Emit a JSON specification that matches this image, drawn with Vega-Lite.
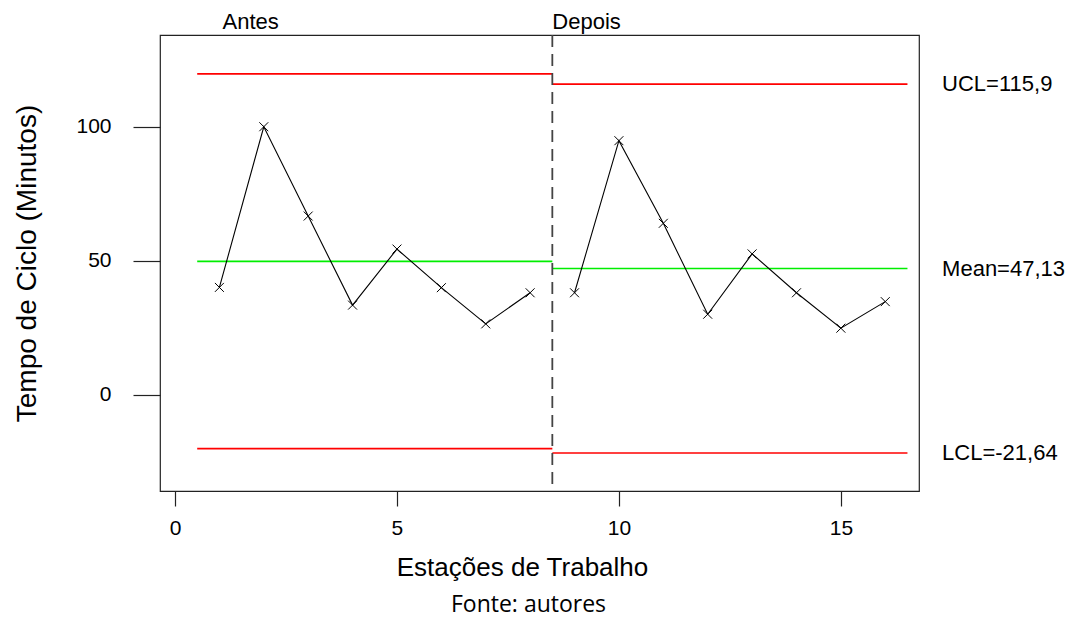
{
  "$schema": "https://vega.github.io/schema/vega-lite/v6.json",
  "width": 759,
  "height": 456,
  "autosize": {"type": "none"},
  "padding": {"left": 160, "top": 35, "right": 149, "bottom": 127},
  "background": "white",
  "config": {
    "view": {"stroke": "#222222", "strokeWidth": 1.2},
    "font": "Liberation Sans",
    "axis": {"grid": false, "domain": false, "tickColor": "#222222", "tickWidth": 1.2, "labelColor": "#000000", "titleColor": "#000000", "labelFont": "Liberation Sans", "titleFont": "Liberation Sans", "titleFontWeight": "normal"}
  },
  "title": {"text": "Fonte: autores", "orient": "bottom", "anchor": "middle", "font": "Open Sans", "fontSize": 23, "fontWeight": "normal", "color": "#000000", "offset": 14, "dx": -11},
  "datasets": {
    "pontos": [
      {"estacao": 1, "tempo": 40.1, "fase": "Antes"},
      {"estacao": 2, "tempo": 100.0, "fase": "Antes"},
      {"estacao": 3, "tempo": 66.7, "fase": "Antes"},
      {"estacao": 4, "tempo": 33.5, "fase": "Antes"},
      {"estacao": 5, "tempo": 54.4, "fase": "Antes"},
      {"estacao": 6, "tempo": 40.0, "fase": "Antes"},
      {"estacao": 7, "tempo": 26.5, "fase": "Antes"},
      {"estacao": 8, "tempo": 38.1, "fase": "Antes"},
      {"estacao": 9, "tempo": 38.1, "fase": "Depois"},
      {"estacao": 10, "tempo": 94.8, "fase": "Depois"},
      {"estacao": 11, "tempo": 64.0, "fase": "Depois"},
      {"estacao": 12, "tempo": 30.1, "fase": "Depois"},
      {"estacao": 13, "tempo": 52.6, "fase": "Depois"},
      {"estacao": 14, "tempo": 38.1, "fase": "Depois"},
      {"estacao": 15, "tempo": 24.9, "fase": "Depois"},
      {"estacao": 16, "tempo": 34.8, "fase": "Depois"}
    ],
    "limites": [
      {"fase": "Antes", "tipo": "UCL", "inicio": 0.5, "fim": 8.5, "valor": 119.7},
      {"fase": "Antes", "tipo": "Mean", "inicio": 0.5, "fim": 8.5, "valor": 49.8},
      {"fase": "Antes", "tipo": "LCL", "inicio": 0.5, "fim": 8.5, "valor": -20.0},
      {"fase": "Depois", "tipo": "UCL", "inicio": 8.5, "fim": 16.5, "valor": 115.9},
      {"fase": "Depois", "tipo": "Mean", "inicio": 8.5, "fim": 16.5, "valor": 47.13},
      {"fase": "Depois", "tipo": "LCL", "inicio": 8.5, "fim": 16.5, "valor": -21.64}
    ],
    "rotulos": [
      {"tipo": "UCL", "valor": 115.9, "texto": "UCL=115,9"},
      {"tipo": "Mean", "valor": 47.13, "texto": "Mean=47,13"},
      {"tipo": "LCL", "valor": -21.64, "texto": "LCL=-21,64"}
    ],
    "fases": [
      {"fase": "Antes", "inicio": 1.07},
      {"fase": "Depois", "inicio": 8.5}
    ],
    "divisao": [{"corte": 8.5}]
  },
  "layer": [
    {
      "data": {"name": "limites"},
      "mark": {"type": "rule", "strokeWidth": 1.6},
      "encoding": {
        "x": {"field": "inicio", "type": "quantitative", "scale": {"domain": [-0.338, 16.76], "nice": false, "zero": false},
          "axis": {"values": [0, 5, 10, 15], "tickSize": 15, "labelPadding": 11, "labelFontSize": 21, "title": "Estações de Trabalho", "titleFontSize": 26, "titlePadding": 16, "titleX": 362}},
        "x2": {"field": "fim"},
        "y": {"field": "valor", "type": "quantitative", "scale": {"domain": [-35.8, 134.2], "nice": false, "zero": false},
          "axis": {"values": [0, 50, 100], "tickSize": 27, "labelPadding": 22, "labelFontSize": 21, "title": "Tempo de Ciclo (Minutos)", "titleFontSize": 28, "titlePadding": 34}},
        "color": {"field": "tipo", "type": "nominal", "scale": {"domain": ["UCL", "Mean", "LCL"], "range": ["#FF0000", "#00EE00", "#FF0000"]}, "legend": null}
      }
    },
    {
      "data": {"name": "divisao"},
      "mark": {"type": "rule", "strokeDash": [12, 7], "strokeWidth": 1.8, "color": "#444444"},
      "encoding": {"x": {"field": "corte", "type": "quantitative"}}
    },
    {
      "data": {"name": "pontos"},
      "mark": {"type": "line", "color": "#000000", "strokeWidth": 1.1},
      "encoding": {
        "x": {"field": "estacao", "type": "quantitative"},
        "y": {"field": "tempo", "type": "quantitative"},
        "detail": {"field": "fase", "type": "nominal"}
      }
    },
    {
      "data": {"name": "pontos"},
      "mark": {"type": "point", "shape": "M-1,-1L1,1M1,-1L-1,1", "filled": false, "color": "#000000", "size": 80, "strokeWidth": 1, "opacity": 1},
      "encoding": {
        "x": {"field": "estacao", "type": "quantitative"},
        "y": {"field": "tempo", "type": "quantitative"}
      }
    },
    {
      "data": {"name": "rotulos"},
      "mark": {"type": "text", "align": "left", "baseline": "middle", "fontSize": 22, "color": "#000000", "font": "Liberation Sans"},
      "encoding": {
        "x": {"datum": 17.28, "type": "quantitative"},
        "y": {"field": "valor", "type": "quantitative"},
        "text": {"field": "texto"}
      }
    },
    {
      "data": {"name": "fases"},
      "mark": {"type": "text", "align": "left", "baseline": "alphabetic", "fontSize": 22, "color": "#000000", "font": "Liberation Sans"},
      "encoding": {
        "x": {"field": "inicio", "type": "quantitative"},
        "y": {"datum": 136.4, "type": "quantitative"},
        "text": {"field": "fase"}
      }
    }
  ]
}
